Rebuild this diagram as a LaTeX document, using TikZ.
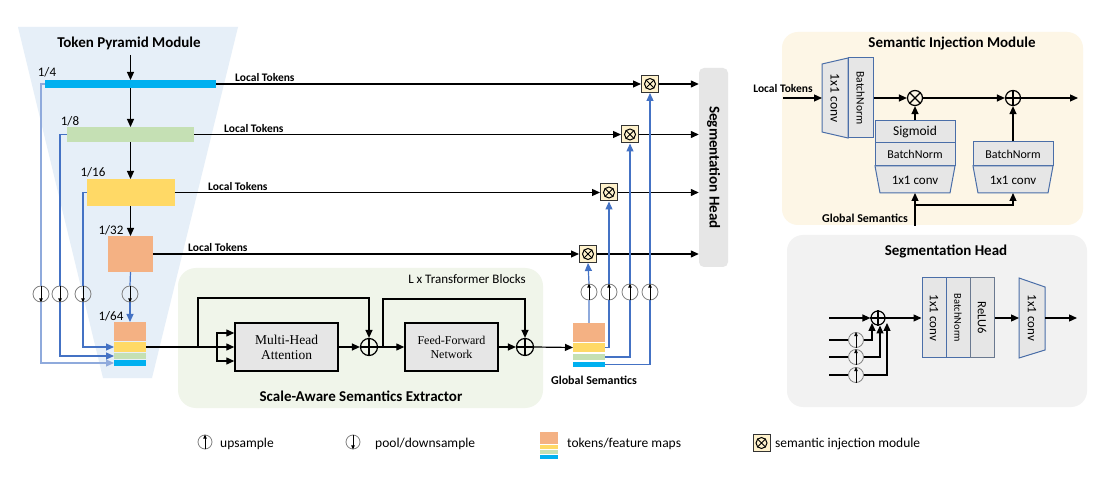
\documentclass[tikz,border=0pt]{standalone}
\usepackage{fontspec}
\setmainfont{Carlito}
\newfontfamily\tnr{Liberation Serif}
\usetikzlibrary{arrows.meta,calc}
\newcommand\fsz[1]{\fontsize{#1}{#1}\selectfont}
\definecolor{cyanbar}{HTML}{00B0F0}
\definecolor{greenbar}{HTML}{C5E0B4}
\definecolor{yellowbar}{HTML}{FFD966}
\definecolor{salmonbar}{HTML}{F4B183}
\definecolor{lineblue}{HTML}{4472C4}
\definecolor{lightblue}{HTML}{8FAADC}
\definecolor{pyrbg}{HTML}{E6EFF8}
\definecolor{sasebg}{HTML}{F0F5EA}
\definecolor{simbg}{HTML}{FDF6E6}
\definecolor{shbg}{HTML}{F2F2F2}
\definecolor{boxgray}{HTML}{E6E6E6}
\definecolor{convblue}{HTML}{4A6EA8}
\definecolor{injfill}{HTML}{FFF2CC}
\definecolor{ringgray}{HTML}{808080}
\newcommand\injbox[3]{%
  \node[inj] (#1) at (#2,#3) {};
  \node[circle,draw,line width=1pt,minimum size=11pt,inner sep=0pt] (#1c) at (#1) {};
  \draw[line width=1pt] (#1c.north east)--(#1c.south west) (#1c.north west)--(#1c.south east);}
\newcommand\plusmark[1]{\draw[line width=1.2pt] (#1.north)--(#1.south) (#1.west)--(#1.east);}
\newcommand\crossmark[1]{\draw[line width=1.2pt] (#1.north east)--(#1.south west) (#1.north west)--(#1.south east);}
\begin{document}
\begin{tikzpicture}[x=1pt,y=-1pt,
  arr/.style={line width=1.2pt,-{Triangle[length=8pt,width=7pt]}},
  ln/.style={line width=1.2pt},
  barr/.style={draw=lineblue,color=lineblue,line width=1.2pt,-{Triangle[length=8pt,width=7pt]}},
  bln/.style={draw=lineblue,line width=1.2pt},
  tokbar/.style={rectangle,inner sep=0pt,outer sep=0pt},
  samp/.style={circle,draw=ringgray,line width=0.8pt,minimum size=16pt,inner sep=0pt},
  inarr/.style={line width=0.8pt,-{Triangle[length=4pt,width=3.5pt]}},
  opc/.style={circle,draw,line width=1.2pt,minimum size=17pt,inner sep=0pt},
  ttl/.style={font=\fsz{15}\bfseries},
  lt/.style={font=\fsz{11.5}\bfseries,anchor=south west,inner sep=1pt},
  frac/.style={font=\fsz{13}},
  blk/.style={rectangle,draw,line width=1.4pt,fill=boxgray,inner sep=0pt},
  cbox/.style={rectangle,draw=convblue,line width=1pt,fill=boxgray,inner sep=0pt},
  ctrap/.style={draw=convblue,line width=1pt,fill=boxgray},
  inj/.style={rectangle,draw=black!80,line width=1pt,fill=injfill,minimum size=17pt,inner sep=0pt},
  leg/.style={font=\fsz{13.5},anchor=base west,inner sep=0pt},
]
\useasboundingbox (0,0) rectangle (1114,478);
\fill[white] (0,0) rectangle (1114,478);
% backgrounds
\fill[pyrbg] (18,27) -- (238,27) -- (152,378) -- (103,378) -- cycle;
\fill[sasebg,rounded corners=18pt] (178,268) rectangle (543,408);
\fill[simbg,rounded corners=16pt] (782,32) rectangle (1083,225);
\fill[shbg,rounded corners=16pt] (787,235) rectangle (1087,407);

% ---------- Token pyramid ----------
\node[ttl] (tpm) at (129,43) {Token Pyramid Module};
\coordinate (tpmarr) at (130.5,55);
\node[tokbar,fill=cyanbar,minimum width=171pt,minimum height=8pt] (b4) at (130.5,84) {};
\node[tokbar,fill=greenbar,minimum width=127pt,minimum height=15pt] (b8) at (130.5,134.5) {};
\node[tokbar,fill=yellowbar,minimum width=88pt,minimum height=27pt] (b16) at (130.5,192.5) {};
\node[tokbar,fill=salmonbar,minimum width=45pt,minimum height=36pt] (b32) at (130.5,254) {};
\node[frac] (l4) at (47,72) {1/4};
\node[frac] (l8) at (70,121) {1/8};
\node[frac] (l16) at (93,172) {1/16};
\node[frac] (l32) at (111,230) {1/32};
\node[frac] (l64) at (111,316) {1/64};
\draw[arr] (tpmarr) -- (b4.north);
\draw[arr] (b4.south) -- (b8.north);
\draw[arr] (b8.south) -- (b16.north);
\draw[arr] (b16.south) -- (b32.north);

% 1/64 stack
\node[tokbar,fill=salmonbar,minimum width=32pt,minimum height=19pt] (sa) at (130,331.5) {};
\node[tokbar,fill=yellowbar,minimum width=32pt,minimum height=10pt] (sb) at (130,347) {};
\node[tokbar,fill=greenbar,minimum width=32pt,minimum height=6pt] (sc) at (130,356) {};
\node[tokbar,fill=cyanbar,minimum width=32pt,minimum height=6pt] (sd) at (130,363) {};

% downsample circles
\node[samp] (d1) at (41,294) {};
\node[samp] (d2) at (60,294) {};
\node[samp] (d3) at (83,294) {};
\node[samp] (d4) at (130,294) {};
\draw[bln,draw=lightblue] (b4.west) -| (d1.north);
\draw[barr,draw=lightblue] (d1.south) |- (sd.west);
\draw[bln] (b8.west) -| (d2.north);
\draw[barr] (d2.south) |- (sc.west);
\draw[bln] (b16.west) -| (d3.north);
\draw[barr] (d3.south) |- (sb.west);
\draw[bln] (b32.south) -- (d4.north);
\draw[barr] (d4.south) -- (sa.north);
\foreach \c in {d1,d2,d3,d4} {\draw[inarr] (\c.north) -- (\c.south);}

% ---------- Scale-aware semantics extractor ----------
\node[font=\fsz{13}] (ltb) at (467,279) {L x Transformer Blocks};
\node[ttl] (sase) at (361,396) {Scale-Aware Semantics Extractor};
\node[blk,minimum width=103pt,minimum height=48pt,font=\tnr\fontsize{13.5}{15}\selectfont,align=center] (mha) at (286.5,347) {Multi-Head\\Attention};
\node[blk,minimum width=93pt,minimum height=48pt,font=\tnr\fontsize{12}{14}\selectfont,align=center] (ffn) at (451.5,347) {Feed-Forward\\Network};
\node[opc] (p1) at (369,347) {}; \plusmark{p1}
\node[opc] (p2) at (525,347) {}; \plusmark{p2}
\coordinate (k1) at (198,347);
\coordinate (spl) at (217,347);
\coordinate (k2) at (383,347);
\draw[arr] (sb.east) -- (mha.west);
\draw[arr] (spl) |- ([yshift=14pt]mha.west);
\draw[arr] (spl) |- ([yshift=-14pt]mha.west);
\draw[arr] (k1) -- ++(0,-49) -| (p1.north);
\draw[arr] (mha.east) -- (p1.west);
\draw[arr] (p1.east) -- (ffn.west);
\draw[arr] (k2) -- ++(0,-48) -| (p2.north);
\draw[arr] (ffn.east) -- (p2.west);

% global semantics stack
\node[tokbar,fill=salmonbar,minimum width=32pt,minimum height=19pt] (ga) at (589,332.5) {};
\node[tokbar,fill=yellowbar,minimum width=32pt,minimum height=9pt] (gb) at (589,347.5) {};
\node[tokbar,fill=greenbar,minimum width=32pt,minimum height=6pt] (gc) at (589,357) {};
\node[tokbar,fill=cyanbar,minimum width=32pt,minimum height=5pt] (gd) at (589,364.5) {};
\node[font=\fsz{12}\bfseries] (gsl) at (594,380) {Global Semantics};
\draw[arr] (p2.east) -- (gb.west);

% ---------- injection boxes ----------
\injbox{i1}{650}{84}
\injbox{i2}{630}{134.5}
\injbox{i3}{609}{192.5}
\injbox{i4}{588}{254}
\draw[arr] (b4.east) -- (i1.west);
\draw[arr] (b8.east) -- (i2.west);
\draw[arr] (b16.east) -- (i3.west);
\draw[arr] (b32.east) -- (i4.west);
\node[lt] (lt1) at (234,83) {Local Tokens};
\node[lt] (lt2) at (223,133.5) {Local Tokens};
\node[lt] (lt3) at (207,191.5) {Local Tokens};
\node[lt] (lt4) at (187,253) {Local Tokens};

% segmentation head box
\node[rectangle,rounded corners=5pt,fill=boxgray,minimum width=29pt,minimum height=199pt] (sh) at (713.5,167.5) {};
\node[ttl,rotate=-90] (shtxt) at (sh) {Segmentation Head};
\draw[arr] (i1.east) -- (i1.east -| sh.west);
\draw[arr] (i2.east) -- (i2.east -| sh.west);
\draw[arr] (i3.east) -- (i3.east -| sh.west);
\draw[arr] (i4.east) -- (i4.east -| sh.west);

% upsample circles
\node[samp] (u1) at (589,292) {};
\node[samp] (u2) at (609,292) {};
\node[samp] (u3) at (630,292) {};
\node[samp] (u4) at (650,292) {};
\draw[bln,draw=lightblue] (ga.north) -- (u1.south);
\draw[barr] (u1.north) -- (i4.south);
\draw[bln] (gb.east) -| (u2.south);
\draw[barr] (u2.north) -- (i3.south);
\draw[bln] (gc.east) -| (u3.south);
\draw[barr] (u3.north) -- (i2.south);
\draw[bln] (gd.east) -| (u4.south);
\draw[barr] (u4.north) -- (i1.south);
\foreach \c in {u1,u2,u3,u4} {\draw[inarr] (\c.south) -- (\c.north);}

% ---------- Semantic Injection Module ----------
\node[ttl] (simt) at (952,43) {Semantic Injection Module};
\node[font=\fsz{11.5}\bfseries] (simlt) at (783,89) {Local Tokens};
\coordinate (simin) at (783,98);
\filldraw[ctrap] (822,64) -- (848,58) -- (848,138) -- (822,132) -- cycle;
\coordinate (c0w) at (822,98);
\node[rotate=-90,font=\fsz{13.5}] (c0t) at (835,98) {1x1 conv};
\node[cbox,minimum width=25pt,minimum height=80pt] (sbn0) at (860.5,98) {};
\node[rotate=-90,font=\fsz{11.5}] (sbn0t) at (sbn0) {BatchNorm};
\draw[arr] (simin) -- (c0w);
\node[opc,minimum size=15pt] (m1) at (915,98) {}; \crossmark{m1}
\node[opc,minimum size=15pt] (a1) at (1013,98) {}; \plusmark{a1}
\draw[arr] (sbn0.east) -- (m1.west);
\draw[arr] (m1.east) -- (a1.west);
\coordinate (simout) at (1078,98);
\draw[arr] (a1.east) -- (simout);
\node[cbox,minimum width=80pt,minimum height=22pt,font=\fsz{13.5}] (sig) at (915,132) {Sigmoid};
\node[cbox,minimum width=80pt,minimum height=23pt,font=\fsz{12}] (bn1) at (915,154.5) {BatchNorm};
\filldraw[ctrap] (875,166) -- (955,166) -- (950,193) -- (880,193) -- cycle;
\node[font=\fsz{13}] (cv1) at (915,180) {1x1 conv};
\coordinate (cv1b) at (915,193);
\node[cbox,minimum width=80pt,minimum height=24pt,font=\fsz{12}] (bn2) at (1013,154) {BatchNorm};
\filldraw[ctrap] (973,166) -- (1053,166) -- (1048,193) -- (978,193) -- cycle;
\node[font=\fsz{13}] (cv2) at (1013,180) {1x1 conv};
\coordinate (cv2b) at (1013,193);
\draw[arr] (sig.north) -- (m1.south);
\draw[arr] (bn2.north) -- (a1.south);
\node[font=\fsz{12}\bfseries] (simgs) at (865,218) {Global Semantics};
\coordinate (gsin) at (915,226);
\coordinate (gsj) at (915,205);
\draw[arr] (gsin) -- (cv1b);
\draw[arr] (gsj) -| (cv2b);

% ---------- Segmentation Head panel ----------
\node[ttl] (sht) at (946,251) {Segmentation Head};
\node[opc,minimum size=14pt] (sp2) at (878,318) {}; \plusmark{sp2}
\coordinate (shin0) at (829,318);
\draw[arr] (shin0) -- (sp2.west);
\node[samp,minimum size=15pt] (su1) at (856,340) {};
\node[samp,minimum size=15pt] (su2) at (856,357) {};
\node[samp,minimum size=15pt] (su3) at (856,375) {};
\coordinate (shin1) at (829,340);
\coordinate (shin2) at (829,357);
\coordinate (shin3) at (829,375);
\coordinate (t1) at (872,323);
\coordinate (t2) at (880,325.5);
\coordinate (t3) at (887,323);
\draw[ln] (shin1) -- (su1.west);
\draw[ln] (shin2) -- (su2.west);
\draw[ln] (shin3) -- (su3.west);
\draw[arr] (su1.east) -| (t1);
\draw[arr] (su2.east) -| (t2);
\draw[arr] (su3.east) -| (t3);
\foreach \c in {su1,su2,su3} {\draw[inarr] (\c.south) -- (\c.north);}
\node[cbox,minimum width=24pt,minimum height=80pt] (shc1) at (934,318) {};
\node[cbox,minimum width=24pt,minimum height=80pt] (shbn) at (958,318) {};
\node[cbox,draw=gray!60!convblue,minimum width=24pt,minimum height=80pt] (shr) at (982,318) {};
\node[rotate=-90,font=\fsz{13}] (shc1t) at (shc1) {1x1 conv};
\node[rotate=-90,font=\fsz{10.5}] (shbnt) at (shbn) {BatchNorm};
\node[rotate=-90,font=\fsz{12.5}] (shrt) at (shr) {ReLU6};
\draw[arr] (sp2.east) -- (shc1.west);
\filldraw[ctrap] (1019,278) -- (1045,287) -- (1045,350) -- (1019,358) -- cycle;
\coordinate (shtw) at (1019,318);
\coordinate (shte) at (1045,318);
\node[rotate=-90,font=\fsz{13}] (shtt) at (1032,318) {1x1 conv};
\draw[arr] (shr.east) -- (shtw);
\coordinate (shout) at (1077,318);
\draw[arr] (shte) -- (shout);

% ---------- Legend ----------
\node[samp,minimum size=14pt] (lu) at (205,442) {};
\draw[inarr] (lu.south) -- (lu.north);
\node[leg] (lut) at (220,447.5) {upsample};
\node[samp,minimum size=14pt] (ld) at (353,442) {};
\draw[inarr] (ld.north) -- (ld.south);
\node[leg] (ldt) at (375,447.5) {pool/downsample};
\node[tokbar,fill=salmonbar,minimum width=18pt,minimum height=12pt] (lsa) at (549,438) {};
\node[tokbar,fill=yellowbar,minimum width=18pt,minimum height=4pt] (lsb) at (549,447) {};
\node[tokbar,fill=greenbar,minimum width=18pt,minimum height=4pt] (lsc) at (549,452) {};
\node[tokbar,fill=cyanbar,minimum width=18pt,minimum height=4pt] (lsd) at (549,457) {};
\node[leg] (lst) at (567,447.5) {tokens/feature maps};
\injbox{li}{761.5}{443}
\node[leg] (lit) at (775,447.5) {semantic injection module};
\end{tikzpicture}
\end{document}
